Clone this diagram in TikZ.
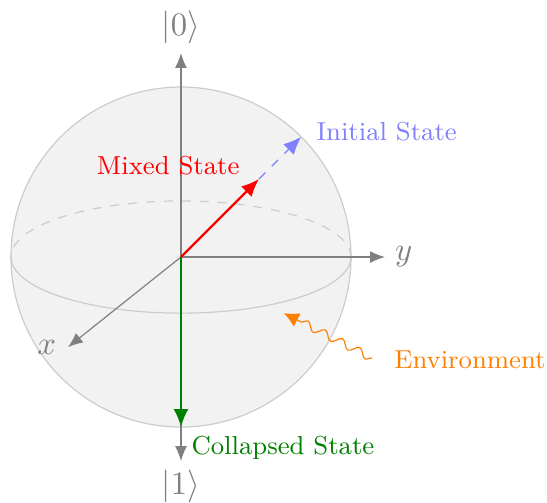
\documentclass[tikz,border=0pt]{standalone}
\usetikzlibrary{arrows.meta,decorations.pathmorphing}

\tikzset{
	axis/.style={gray, -{Latex[length=5pt, width=4pt]}},
	axislabel/.style={gray, font=\fontsize{10.5}{12}\selectfont},
	statearrow/.style={thick, -{Latex[length=6pt, width=5pt]}},
	statelabel/.style={font=\fontsize{8.7}{10}\selectfont},
}

\begin{document}
\begin{tikzpicture}[x=1cm, y=1cm]
		\useasboundingbox (-2.129,-2.882) rectangle (4.306,3.024);

		% Bloch sphere with its equator
		\fill[gray!10] (0,0) circle (2);
		\draw[gray!40] (0,0) circle (2);
		\draw[gray!40, dashed] (2,0) arc (0:180:2 and 0.66);
		\draw[gray!40] (-2,0) arc (180:360:2 and 0.66);

		% Axes and their labels
		\coordinate (O) at (0,0);
		\coordinate (ztop) at (0,2.4);
		\coordinate (zbot) at (0,-2.4);
		\coordinate (yend) at (2.4,0);
		\coordinate (xend) at (-1.33,-1.06);
		\draw[axis] (O) -- (ztop);
		\draw[axis] (O) -- (zbot);
		\draw[axis] (O) -- (yend);
		\draw[axis] (O) -- (xend);
		\node[axislabel] (ket0) at (0,2.7) {$|0\rangle$};
		\node[axislabel] (ket1) at (0,-2.7) {$|1\rangle$};
		\node[axislabel] (ylabel) at (2.62,0) {$y$};
		\node[axislabel] (xlabel) at (-1.58,-1.06) {$x$};

		% Initial, mixed and collapsed states
		\coordinate (initial) at (45:2);
		\coordinate (mixed) at (45:1.3);
		\coordinate (collapsed) at (0,-2);
		\draw[blue!50, dashed, -{Latex[length=6pt, width=5pt]}] (mixed) -- (initial);
		\draw[statearrow, red] (O) -- (mixed);
		\draw[statearrow, green!50!black] (O) -- (collapsed);
		\node[statelabel, blue!50] (initlabel) at (2.42,1.47) {Initial State};
		\node[statelabel, red] (mixedlabel) at (-0.15,1.07) {Mixed State};
		\node[statelabel, green!50!black] (collabel) at (1.2,-2.24) {Collapsed State};

		% Environment acting on the state
		\node[statelabel, orange] (envlabel) at (3.4,-1.21) {Environment};
		\coordinate (envstart) at (2.25,-1.19);
		\coordinate (envend) at (1.21,-0.66);
		\draw[orange, -{Latex[length=5pt, width=5pt]},
			decorate, decoration={snake, amplitude=1.3pt, segment length=6.5pt, post length=5pt}]
			(envstart) -- (envend);
	\end{tikzpicture}
\end{document}
